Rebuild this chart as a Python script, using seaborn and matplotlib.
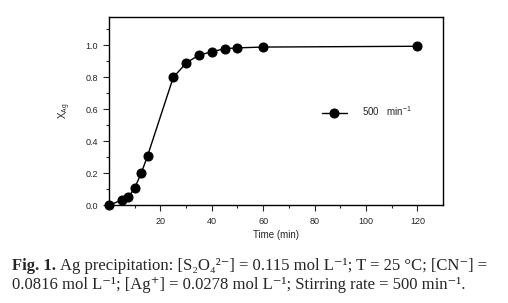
import numpy as np
import pandas as pd
import matplotlib
matplotlib.use('Agg')
import matplotlib.pyplot as plt
import seaborn as sns

# data
time_min = [0, 5, 7.5, 10, 12.5, 15, 25, 30, 35, 40, 45, 50, 60, 120]
x_ag = [0.0, 0.035, 0.05, 0.11, 0.20, 0.31, 0.80, 0.89, 0.94, 0.96, 0.98, 0.985, 0.99, 0.995]
series_label = '500   min$^{-1}$'

x_major = [20, 40, 60, 80, 100, 120]
x_minor = [10, 30, 50, 70, 90, 110]
y_major = [0.0, 0.2, 0.4, 0.6, 0.8, 1.0]
y_minor = [0.1, 0.3, 0.5, 0.7, 0.9, 1.1]

df = pd.DataFrame({'Time': time_min, 'X': x_ag})

sns.set_style('ticks')
plt.rcParams['font.family'] = ['Liberation Sans', 'DejaVu Sans']
plt.rcParams['mathtext.fontset'] = 'custom'
plt.rcParams['mathtext.rm'] = 'Liberation Sans'
plt.rcParams['mathtext.it'] = 'Liberation Sans'

fig = plt.figure(figsize=(5.08, 3.03), dpi=100)
ax = fig.add_axes([0.2146, 0.322, 0.6575, 0.623])

sns.lineplot(data=df, x='Time', y='X', marker='o', color='black', markersize=6.5,
             markeredgecolor='black', linewidth=1, label=series_label, ax=ax,
             clip_on=False)

ax.set_xlim(0, 130)
ax.set_ylim(0, 1.18)
ax.set_xticks(x_major)
ax.set_xticks(x_minor, minor=True)
ax.set_yticks(y_major)
ax.set_yticks(y_minor, minor=True)
ax.set_xticklabels([str(v) for v in x_major])
ax.set_yticklabels(['%.1f' % v for v in y_major])
ax.tick_params(axis='both', which='major', direction='out', length=4, width=0.8, labelsize=6.5, pad=4)
ax.tick_params(axis='both', which='minor', direction='out', length=2.5, width=0.8)
for s in ax.spines.values():
    s.set_visible(True)
    s.set_linewidth(1)
    s.set_color('black')

ax.set_xlabel('Time (min)', fontsize=7, labelpad=3)
ax.set_ylabel('X$_{Ag}$', fontsize=7, labelpad=9)

leg = ax.legend(loc='center left', bbox_to_anchor=(0.61, 0.5), frameon=False,
                fontsize=7, handlelength=2.6, handletextpad=1.6)

# caption
cap_font = ['Liberation Serif', 'DejaVu Serif']
fig.canvas.draw()
r = fig.canvas.get_renderer()
t1 = fig.text(0.024, 0.108, 'Fig. 1.', fontsize=12, fontweight='bold', family=cap_font)
bb = t1.get_window_extent(renderer=r)
x2 = (bb.x1 + 4) / fig.bbox.width
fig.text(x2, 0.108,
         'Ag precipitation: [S\u2082O\u2084\u00b2\u207b] = 0.115 mol L\u207b\u00b9; T = 25 \u00b0C; [CN\u207b] =',
         fontsize=12, family=cap_font)
fig.text(0.024, 0.046,
         '0.0816 mol L\u207b\u00b9; [Ag\u207a] = 0.0278 mol L\u207b\u00b9; Stirring rate = 500 min\u207b\u00b9.',
         fontsize=12, family=cap_font)

fig.savefig('out.png', dpi=100)
